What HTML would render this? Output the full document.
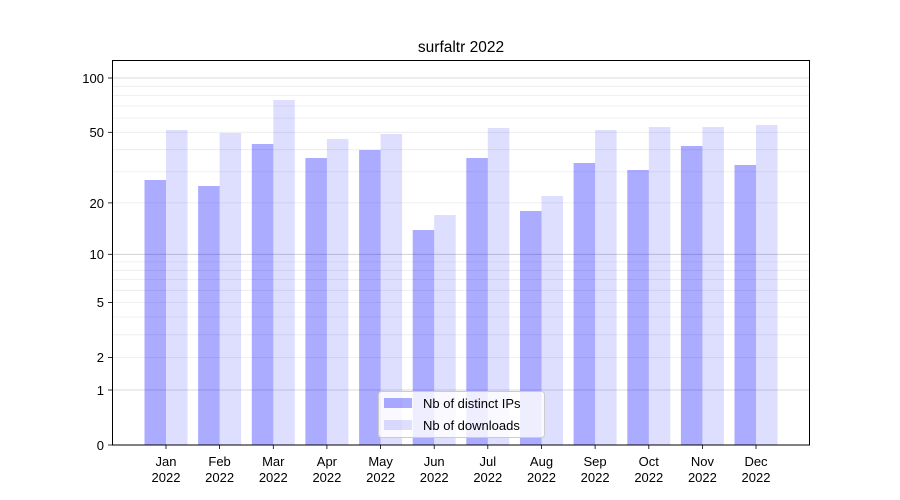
<!DOCTYPE html>
<html><head><meta charset="utf-8"><style>body{margin:0;background:#fff}svg{display:block}text{font-family:"Liberation Sans","DejaVu Sans",sans-serif;font-size:13px;fill:#000}</style></head>
<body>
<svg width="900" height="500" xmlns="http://www.w3.org/2000/svg">
<rect width="900" height="500" fill="#fff"/>
<g stroke="#ebebeb" stroke-width="0.8">
<line x1="112" x2="810" y1="357.6" y2="357.6"/><line x1="112" x2="810" y1="334.8" y2="334.8"/><line x1="112" x2="810" y1="317" y2="317"/><line x1="112" x2="810" y1="302.5" y2="302.5"/><line x1="112" x2="810" y1="290.3" y2="290.3"/><line x1="112" x2="810" y1="279.6" y2="279.6"/><line x1="112" x2="810" y1="270.3" y2="270.3"/><line x1="112" x2="810" y1="261.9" y2="261.9"/>
<line x1="112" x2="810" y1="202.9" y2="202.9"/><line x1="112" x2="810" y1="171.9" y2="171.9"/><line x1="112" x2="810" y1="149.7" y2="149.7"/><line x1="112" x2="810" y1="132.3" y2="132.3"/><line x1="112" x2="810" y1="118.1" y2="118.1"/><line x1="112" x2="810" y1="106" y2="106"/><line x1="112" x2="810" y1="95.6" y2="95.6"/><line x1="112" x2="810" y1="86.3" y2="86.3"/>
</g>
<g stroke="#cccccc" stroke-width="0.8">
<line x1="112" x2="810" y1="390" y2="390"/><line x1="112" x2="810" y1="254.3" y2="254.3"/><line x1="112" x2="810" y1="78" y2="78"/>
</g>
<g>
<g fill="#0000ff" fill-opacity="0.33">
<rect x="144.5" y="180" width="21.5" height="265"/><rect x="198.1" y="186" width="21.5" height="259"/><rect x="251.8" y="144" width="21.5" height="301"/><rect x="305.4" y="158" width="21.5" height="287"/><rect x="359.1" y="150" width="21.5" height="295"/><rect x="412.7" y="230" width="21.5" height="215"/><rect x="466.3" y="158" width="21.5" height="287"/><rect x="520" y="211" width="21.5" height="234"/><rect x="573.6" y="163" width="21.5" height="282"/><rect x="627.3" y="170" width="21.5" height="275"/><rect x="680.9" y="146" width="21.5" height="299"/><rect x="734.5" y="165" width="21.5" height="280"/>
</g>
<g fill="#0000ff" fill-opacity="0.13">
<rect x="166" y="130" width="21.5" height="315"/><rect x="219.6" y="133" width="21.5" height="312"/><rect x="273.3" y="100" width="21.5" height="345"/><rect x="326.9" y="139" width="21.5" height="306"/><rect x="380.6" y="134" width="21.5" height="311"/><rect x="434.2" y="215" width="21.5" height="230"/><rect x="487.8" y="128" width="21.5" height="317"/><rect x="541.5" y="196" width="21.5" height="249"/><rect x="595.1" y="130" width="21.5" height="315"/><rect x="648.8" y="127" width="21.5" height="318"/><rect x="702.4" y="127" width="21.5" height="318"/><rect x="756" y="125" width="21.5" height="320"/>
</g>
</g>
<rect x="112.5" y="60.5" width="697" height="384.5" fill="none" stroke="#000" stroke-width="1"/>
<g stroke="#000" stroke-width="0.8">
<line x1="108" x2="112" y1="445" y2="445"/><line x1="108" x2="112" y1="390" y2="390"/><line x1="108" x2="112" y1="357.6" y2="357.6"/><line x1="108" x2="112" y1="302.5" y2="302.5"/><line x1="108" x2="112" y1="254.3" y2="254.3"/><line x1="108" x2="112" y1="202.9" y2="202.9"/><line x1="108" x2="112" y1="132.3" y2="132.3"/><line x1="108" x2="112" y1="78" y2="78"/>
</g>
<g text-anchor="end">
<text x="104" y="450">0</text><text x="104" y="395">1</text><text x="104" y="362">2</text><text x="104" y="307">5</text><text x="104" y="259">10</text><text x="104" y="208">20</text><text x="104" y="137">50</text><text x="104" y="83">100</text>
</g>
<g stroke="#000" stroke-width="0.8">
<line x1="166" x2="166" y1="445" y2="449"/><line x1="219.6" x2="219.6" y1="445" y2="449"/><line x1="273.3" x2="273.3" y1="445" y2="449"/><line x1="326.9" x2="326.9" y1="445" y2="449"/><line x1="380.6" x2="380.6" y1="445" y2="449"/><line x1="434.2" x2="434.2" y1="445" y2="449"/><line x1="487.8" x2="487.8" y1="445" y2="449"/><line x1="541.5" x2="541.5" y1="445" y2="449"/><line x1="595.1" x2="595.1" y1="445" y2="449"/><line x1="648.8" x2="648.8" y1="445" y2="449"/><line x1="702.4" x2="702.4" y1="445" y2="449"/><line x1="756" x2="756" y1="445" y2="449"/>
</g>
<g text-anchor="middle">
<text x="166" y="466">Jan</text><text x="166" y="482">2022</text>
<text x="219.6" y="466">Feb</text><text x="219.6" y="482">2022</text>
<text x="273.3" y="466">Mar</text><text x="273.3" y="482">2022</text>
<text x="326.9" y="466">Apr</text><text x="326.9" y="482">2022</text>
<text x="380.6" y="466">May</text><text x="380.6" y="482">2022</text>
<text x="434.2" y="466">Jun</text><text x="434.2" y="482">2022</text>
<text x="487.8" y="466">Jul</text><text x="487.8" y="482">2022</text>
<text x="541.5" y="466">Aug</text><text x="541.5" y="482">2022</text>
<text x="595.1" y="466">Sep</text><text x="595.1" y="482">2022</text>
<text x="648.8" y="466">Oct</text><text x="648.8" y="482">2022</text>
<text x="702.4" y="466">Nov</text><text x="702.4" y="482">2022</text>
<text x="756" y="466">Dec</text><text x="756" y="482">2022</text>
<text x="461" y="52" style="font-size:15.5px">surfaltr 2022</text>
</g>
<rect x="378.5" y="391.5" width="166" height="46" rx="3" fill="#fff" fill-opacity="0.8" stroke="#cccccc"/>
<rect x="384" y="398" width="28" height="10" fill="#0000ff" fill-opacity="0.33"/>
<rect x="384" y="420" width="28" height="10" fill="#0000ff" fill-opacity="0.13"/>
<text x="423" y="408">Nb of distinct IPs</text>
<text x="423" y="430">Nb of downloads</text>
</svg>
</body></html>
